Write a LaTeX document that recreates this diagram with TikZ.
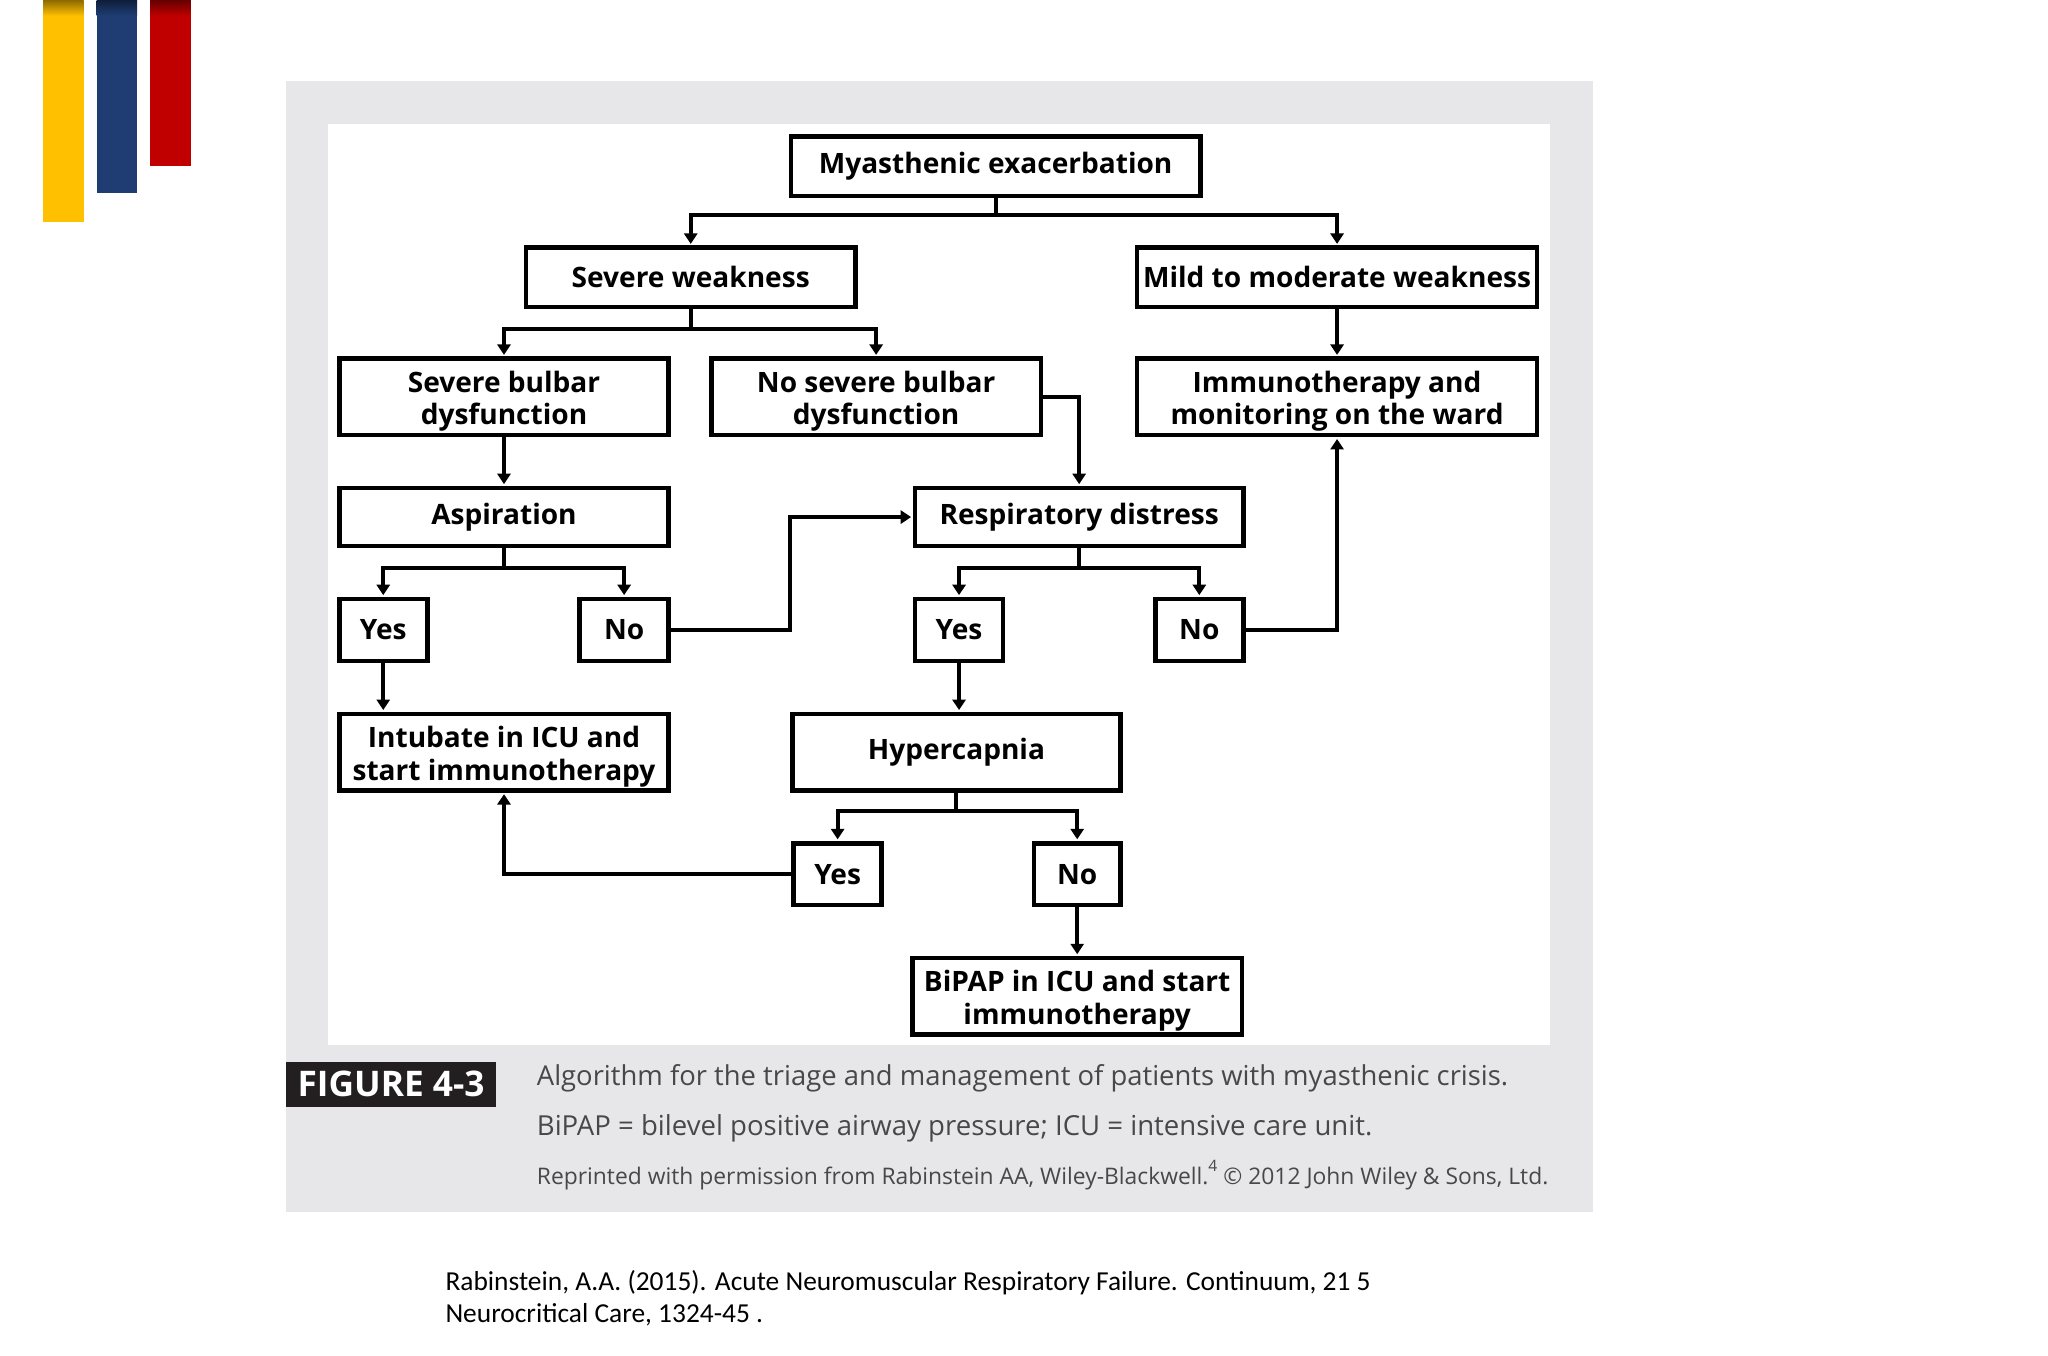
\documentclass[tikz,border=0pt]{standalone}
\usepackage{fontspec}
\setmainfont{Open Sans}
\newfontfamily\cali{Carlito}
\usetikzlibrary{arrows.meta}
\definecolor{panel}{HTML}{E7E7E9}
\definecolor{figbk}{HTML}{231F20}
\definecolor{capgray}{HTML}{484848}
\definecolor{byel}{HTML}{FFC000}
\definecolor{byeld}{HTML}{8C6A00}
\definecolor{bblu}{HTML}{1F3D73}
\definecolor{bblud}{HTML}{0E1E3A}
\definecolor{bred}{HTML}{C00000}
\definecolor{bredd}{HTML}{640000}
\newcommand{\lowtop}{\rule{0pt}{23pt}}
\begin{document}
\begin{tikzpicture}[x=1pt,y=-1pt,
  box/.style={draw=black, line width=3.6pt, fill=white, inner sep=0pt, align=center,
    font=\bfseries\fontsize{21.5}{25}\selectfont},
  wh/.style 2 args={minimum width={(#1-3.6)*1pt}, minimum height={(#2-3.6)*1pt}},
  ln/.style={line width=3pt, line join=miter},
  arr/.style={ln, shorten >=1.2pt, -{Triangle[length=8pt,width=10pt]}},
  captxt/.style={anchor=base west, text=capgray, inner sep=0pt}]
\useasboundingbox (0,0) rectangle (1568.5,1037.8);
\fill[white] (0,0) rectangle (1568.5,1037.8);
% logo bars
\fill[byel] (33,0) rectangle (64,170);
\shade[top color=byeld, bottom color=byel] (33,0) rectangle (64,12);
\fill[bblu] (74,0) rectangle (105,148);
\shade[top color=bblud, bottom color=bblu] (74,0) rectangle (105,12);
\fill[bred] (115,0) rectangle (146,127);
\shade[top color=bredd, bottom color=bred] (115,0) rectangle (146,12);
% panel
\fill[panel] (219,62) rectangle (1220,928);
\fill[white] (251,95) rectangle (1187,800);
% boxes
\node[box, wh={317}{49}] (me)  at (762.5,127.5) {Myasthenic exacerbation};
\node[box, wh={256}{49}] (sw)  at (529,212.5) {Severe weakness};
\node[box, wh={310}{49}] (mw)  at (1024,212.5) {Mild to moderate weakness};
\node[box, wh={256}{62}] (sb)  at (386,304) {\lowtop Severe bulbar\\dysfunction};
\node[box, wh={256}{62}] (nsb) at (671,304) {\lowtop No severe bulbar\\dysfunction};
\node[box, wh={310}{62}] (imm) at (1024,304) {\lowtop Immunotherapy and\\monitoring on the ward};
\node[box, wh={256}{48}] (asp) at (386,396) {Aspiration};
\node[box, wh={255}{48}] (rd)  at (826.5,396) {Respiratory distress};
\node[box, wh={71}{51}] (y1) at (293.5,482.5) {Yes};
\node[box, wh={72}{51}] (n1) at (478,482.5) {No};
\node[box, wh={71}{51}] (y2) at (734.5,482.5) {Yes};
\node[box, wh={71}{51}] (n2) at (918.5,482.5) {No};
\node[box, wh={256}{62}] (int) at (386,576) {\lowtop Intubate in ICU and\\start immunotherapy};
\node[box, wh={255}{62}] (hyp) at (732.5,576) {Hypercapnia};
\node[box, wh={71}{51}] (y3) at (641.5,669.5) {Yes};
\node[box, wh={70}{51}] (n3) at (825,669.5) {No};
\node[box, wh={256}{62}] (bip) at (825,763) {\lowtop BiPAP in ICU and start\\immunotherapy};
% junctions
\coordinate (j1) at (762.5,165);
\coordinate (j2) at (529,252);
\coordinate (j3) at (386,435);
\coordinate (j4) at (826.5,435);
\coordinate (j5) at (732.5,621);
% connectors
\draw[arr] (me.south) -- (j1) -| (sw.north);
\draw[arr] (j1) -| (mw.north);
\draw[arr] (mw.south) -- (imm.north);
\draw[arr] (sw.south) -- (j2) -| (sb.north);
\draw[arr] (j2) -| (nsb.north);
\draw[arr] (nsb.east) -| (rd.north);
\draw[arr] (sb.south) -- (asp.north);
\draw[arr] (asp.south) -- (j3) -| (y1.north);
\draw[arr] (j3) -| (n1.north);
\draw[arr] (n1.east) -- ++(91,0) |- (rd.west);
\draw[arr] (rd.south) -- (j4) -| (y2.north);
\draw[arr] (j4) -| (n2.north);
\draw[arr] (n2.east) -| (imm.south);
\draw[arr] (y1.south) -- (y1.south |- int.north);
\draw[arr] (y2.south) -- (y2.south |- hyp.north);
\draw[arr] (hyp.south) -- (j5) -| (y3.north);
\draw[arr] (j5) -| (n3.north);
\draw[arr] (y3.west) -| (int.south);
\draw[arr] (n3.south) -- (bip.north);
% caption
\node[fill=figbk, text=white, inner sep=0pt, minimum width=161pt, minimum height=35pt,
  font=\bfseries\fontsize{27}{27}\selectfont] (fig) at (299.5,830.5) {FIGURE 4-3};
\node[captxt, font=\fontsize{21}{24}\selectfont] (c1) at (411,831)
  {Algorithm for the triage and management of patients with myasthenic crisis.};
\node[captxt, font=\fontsize{21.1}{24}\selectfont] (c2) at (411,870)
  {BiPAP = bilevel positive airway pressure; ICU = intensive care unit.};
\node[captxt, font=\fontsize{17.5}{20}\selectfont] (c3) at (411,907)
  {Reprinted with permission from Rabinstein AA, Wiley-Blackwell.\raisebox{10pt}{\fontsize{12}{12}\selectfont 4} \textcopyright{} 2012 John Wiley \& Sons, Ltd.};
% citation
\node[anchor=base west, inner sep=0pt, font=\cali\fontsize{21}{24}\selectfont] (r1) at (341,988)
  {Rabinstein, A.A. (2015). Acute Neuromuscular Respiratory Failure. Continuum, 21 5};
\node[anchor=base west, inner sep=0pt, font=\cali\fontsize{21}{24}\selectfont] (r2) at (341,1013)
  {Neurocritical Care, 1324-45 .};
\end{tikzpicture}
\end{document}
